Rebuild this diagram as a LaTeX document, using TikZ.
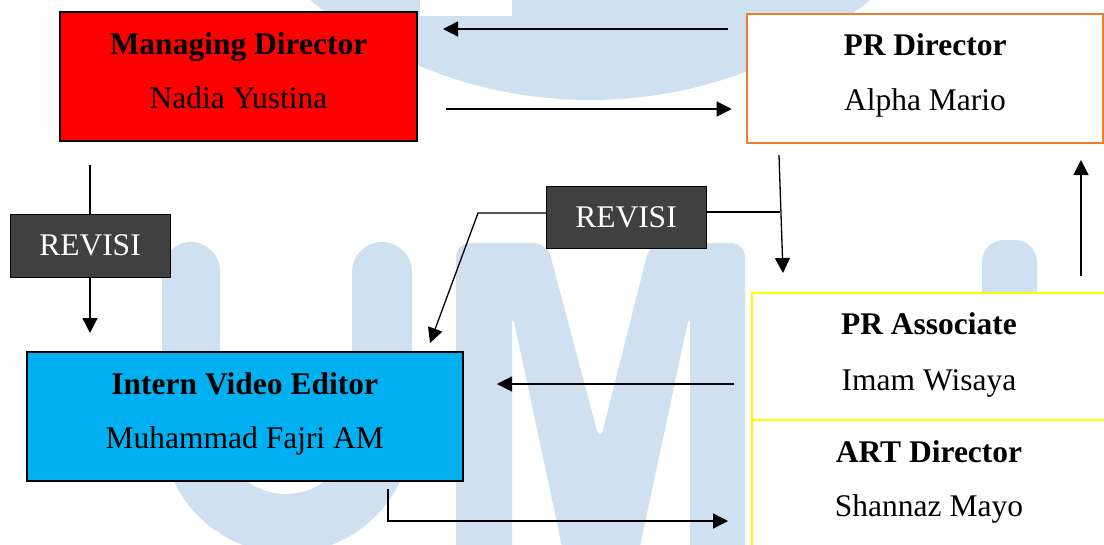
\documentclass[tikz,border=0pt]{standalone}
\usepackage{fontspec}
\setmainfont{Liberation Serif}
\usetikzlibrary{arrows.meta}
\definecolor{wmblue}{RGB}{207,224,240}
\definecolor{mdred}{RGB}{255,0,0}
\definecolor{ivblue}{RGB}{0,176,240}
\definecolor{prorange}{RGB}{237,125,49}
\definecolor{revgray}{RGB}{64,64,64}
\definecolor{ylw}{RGB}{255,255,0}
\begin{document}
\begin{tikzpicture}[x=1pt,y=-1pt,
  boxstyle/.style={inner sep=0pt, outer sep=0pt, line width=2pt},
  txt/.style={font=\fontsize{31.5}{38}\selectfont, anchor=base, inner sep=0pt},
  ttl/.style={font=\fontsize{31.5}{38}\selectfont\bfseries, anchor=base, inner sep=0pt},
  rev/.style={fill=revgray, draw=black, line width=0.8pt, inner sep=0pt, outer sep=0pt,
    minimum width=160pt, text=white, font=\fontsize{31.5}{38}\selectfont},
  conn/.style={line width=1.3pt},
  arr/.style={conn, -{Triangle[length=15pt,width=15pt]}}]
\useasboundingbox (0,0) rectangle (1104,544);
% watermark
\fill[wmblue] (590,-342) circle (442);
\fill[white] (420,-5) rectangle (512,16);
\fill[wmblue] (162,428) -- (162,271) arc (180:360:29) -- (220,428) arc (180:0:66)
  -- (352,272) arc (180:360:30) -- (412,428) arc (0:180:125) -- cycle;
\fill[wmblue, rounded corners=14] (456,565) -- (456,243) -- (547,243) -- (600,442) -- (650,243)
  -- (745,243) -- (745,565) -- (690,565) -- (690,312) -- (636,565) -- (566,565)
  -- (512,312) -- (512,565) -- cycle;
\fill[wmblue, rounded corners=22] (982,560) -- (982,240) -- (1037,240) -- (1037,560) -- cycle;
% boxes
\node[boxstyle, draw=black, fill=mdred, minimum width=357pt, minimum height=129pt] (md) at (238.5,76.5) {};
\node[boxstyle, draw=prorange, fill=white, minimum width=356pt, minimum height=128.5pt] (prd) at (925,78.25) {};
\node[boxstyle, draw=black, fill=ivblue, minimum width=435.5pt, minimum height=128.5pt] (ive) at (244.75,416.25) {};
\node[boxstyle, draw=ylw, fill=white, line width=2.5pt, minimum width=354pt, minimum height=127pt] (pra) at (929,356.5) {};
\node[boxstyle, draw=ylw, fill=white, line width=2.5pt, minimum width=354pt, minimum height=130pt] (art) at (929,485) {};
% texts
\node[ttl] (mdt) at (238.5,54) {Managing Director};
\node[txt] (mdn) at (238.5,108) {Nadia Yustina};
\node[ttl] (prdt) at (925,55) {PR Director};
\node[txt] (prdn) at (925,110) {Alpha Mario};
\node[ttl] (ivet) at (244.75,394) {Intern Video Editor};
\node[txt] (iven) at (244.75,448) {Muhammad Fajri AM};
\node[ttl] (prat) at (929,334) {PR Associate};
\node[txt] (pran) at (929,390) {Imam Wisaya};
\node[ttl] (artt) at (929,462) {ART Director};
\node[txt] (artn) at (929,516) {Shannaz Mayo};
\node[rev, minimum height=63pt] (rev1) at (90,245.5) {REVISI};
\node[rev, minimum height=62pt] (rev2) at (626,217) {REVISI};
% connector end points
\coordinate (t1) at (728,29);
\coordinate (t2) at (443,29);
\coordinate (t3) at (446,109);
\coordinate (t4) at (731.7,109);
\coordinate (c1) at (90,165);
\coordinate (c2) at (90,333);
\coordinate (p1) at (779,155);
\coordinate (p2) at (783,273);
\coordinate (p3) at (780,212);
\coordinate (q1) at (478,213);
\coordinate (q2) at (430,343);
\coordinate (u1) at (1081,276);
\coordinate (u2) at (1081,160);
\coordinate (a1) at (734,384);
\coordinate (a2) at (497,384);
\coordinate (b1) at (388,489);
\coordinate (b2) at (388,521);
\coordinate (b3) at (728,521);
% connectors
\draw[arr] (t1) -- (t2);
\draw[arr] (t3) -- (t4);
\draw[conn] (c1) -- (rev1.north);
\draw[arr] (rev1.south) -- (c2);
\draw[arr] (p1) -- (p2);
\draw[conn] (p3) -- (p3 -| rev2.east);
\draw[arr] (q1 -| rev2.west) -- (q1) -- (q2);
\draw[arr] (u1) -- (u2);
\draw[arr] (a1) -- (a2);
\draw[arr] (b1) -- (b2) -- (b3);
\end{tikzpicture}
\end{document}
